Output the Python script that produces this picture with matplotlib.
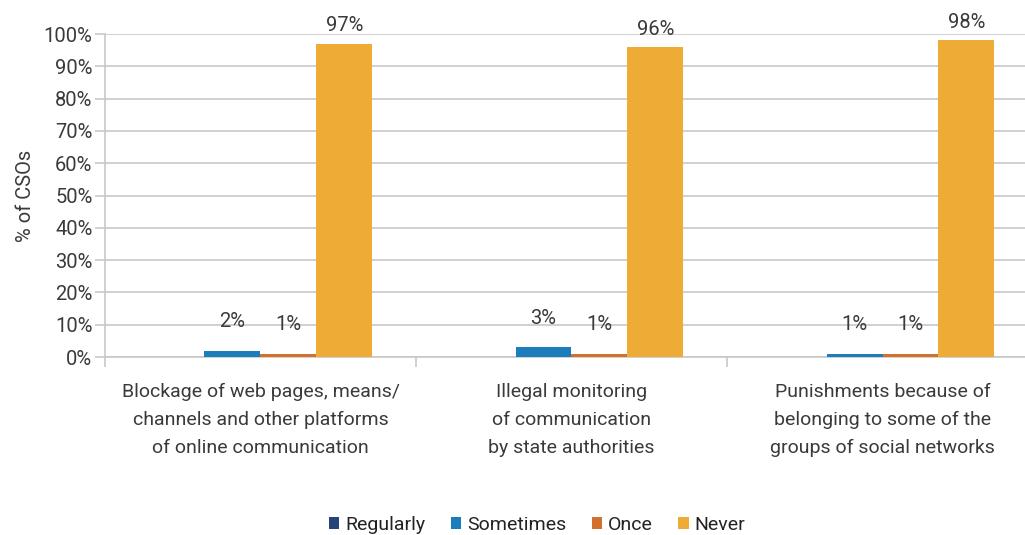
import numpy as np
import matplotlib.pyplot as plt
from matplotlib.ticker import MultipleLocator, FuncFormatter

plt.rcParams['font.family'] = ['Roboto', 'DejaVu Sans']

categories = ['Blockage of web pages, means/\nchannels and other platforms\nof online communication',
              'Illegal monitoring\nof communication\nby state authorities',
              'Punishments because of\nbelonging to some of the\ngroups of social networks']
series = ['Regularly', 'Sometimes', 'Once', 'Never']
regularly = [0, 0, 0]
sometimes = [2, 3, 1]
once = [1, 1, 1]
never = [97, 96, 98]
colors = ['#264478', '#1b7dbc', '#d2712b', '#eeac37']

values = [regularly, sometimes, once, never]

fig = plt.figure(figsize=(10.25, 5.35), dpi=100)
ax = fig.add_axes([0.1024, 0.3327, 0.9103, 0.6037])

x = np.arange(len(categories))
w = 0.18
grey = '#c8c8c8'
txt = '#3a3a3a'

for i, (name, vals) in enumerate(zip(series, values)):
    pos = x + (i - 1.5) * w
    bars = ax.bar(pos, vals, w, color=colors[i], label=name, zorder=3)
    for b, v in zip(bars, vals):
        if v == 0:
            continue
        ax.annotate(f'{v}%', (b.get_x() + b.get_width() / 2, v),
                    xytext=(0, 14 if v < 10 else 6), textcoords='offset points',
                    ha='center', va='bottom', fontsize=14.5, color=txt, zorder=4)

ax.set_xlim(-0.5, len(categories) - 0.5)
ax.set_ylim(0, 100)
ax.yaxis.set_major_locator(MultipleLocator(10))
ax.yaxis.set_major_formatter(FuncFormatter(lambda v, p: f'{v:.0f}%'))
ax.grid(axis='y', color=grey, lw=1.2, zorder=0)
ax.set_axisbelow(True)

# category boundaries carry the tick marks, labels sit between them
ax.set_xticks(np.arange(len(categories) + 1) - 0.5)
ax.set_xticklabels([])
ax.set_xticks(x, minor=True)
ax.set_xticklabels(categories, minor=True, fontsize=14, color=txt, linespacing=1.7)
ax.tick_params(axis='x', which='major', length=7, color=grey, width=1.2)
ax.tick_params(axis='x', which='minor', length=0, pad=19)
ax.tick_params(axis='y', length=7, color=grey, width=1.2, labelsize=14.5, labelcolor=txt, pad=2)

for s in ['top', 'right']:
    ax.spines[s].set_visible(False)
for s in ['left', 'bottom']:
    ax.spines[s].set_color(grey)
    ax.spines[s].set_linewidth(1.2)

ax.set_ylabel('% of CSOs', fontsize=14.5, color=txt, labelpad=6)

fig.legend(loc='lower center', bbox_to_anchor=(0.524, -0.03), ncol=4, frameon=False,
           fontsize=14, handlelength=0.55, handleheight=0.55, handletextpad=0.3,
           columnspacing=1.3, labelcolor='#222222')

fig.savefig('out.png', dpi=100)
